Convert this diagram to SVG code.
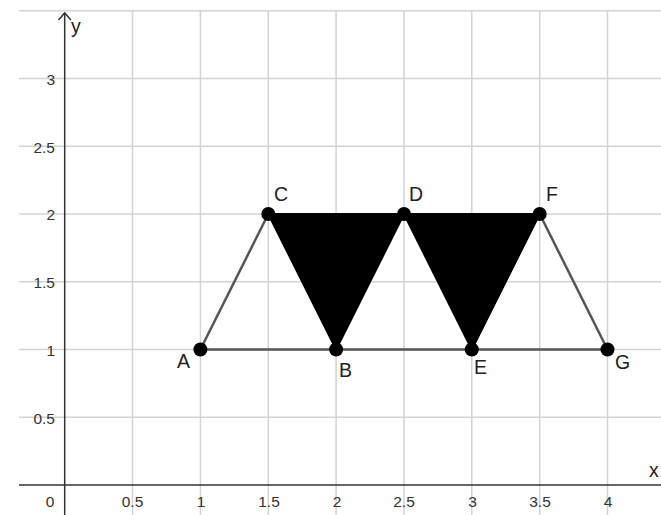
<svg xmlns="http://www.w3.org/2000/svg" width="661" height="515" viewBox="0 0 661 515">
<style>
.grid{stroke:#d3d3d3;stroke-width:1.5;fill:none}
.axis{stroke:#333;stroke-width:1.5;fill:none}
.tick{font-family:"Liberation Sans",Arial,sans-serif;font-size:15.5px;fill:#333}
.ty{text-anchor:end}
.tx{text-anchor:middle}
.seg{stroke:#555;stroke-width:2.5;fill:none;stroke-linecap:round}
.pt{fill:#000}
.lbl{font-family:"Liberation Sans",Arial,sans-serif;font-size:19.5px;fill:#222}
</style>
<rect width="661" height="515" fill="#fff"/>
<g id="grid">
<path class="grid" d="M19 10.75H661M19 78.5H661M19 146.25H661M19 214H661M19 281.75H661M19 349.5H661M19 417.25H661"/>
<path class="grid" d="M132.5 10.75V515M200.4 10.75V515M268.3 10.75V515M336.1 10.75V515M404 10.75V515M471.8 10.75V515M539.7 10.75V515M607.5 10.75V515"/>
</g>
<g id="axes">
<path class="axis" d="M19 485H661"/>
<path class="axis" d="M64.7 515V13"/>
<path class="axis" d="M58.5 20L64.7 13L70.9 20"/>
<text class="lbl" x="71" y="33">y</text>
<text class="lbl" x="649" y="477">x</text>
</g>
<g id="ticks">
<text class="tick tx" x="50" y="507">0</text>
<text class="tick tx" x="132.5" y="507">0.5</text>
<text class="tick tx" x="201" y="507">1</text>
<text class="tick tx" x="269" y="507">1.5</text>
<text class="tick tx" x="337" y="507">2</text>
<text class="tick tx" x="404" y="507">2.5</text>
<text class="tick tx" x="472.5" y="507">3</text>
<text class="tick tx" x="540" y="507">3.5</text>
<text class="tick tx" x="608" y="507">4</text>
<text class="tick ty" x="55" y="423.5">0.5</text>
<text class="tick ty" x="55" y="355.5">1</text>
<text class="tick ty" x="55" y="288">1.5</text>
<text class="tick ty" x="55" y="220">2</text>
<text class="tick ty" x="55" y="152.5">2.5</text>
<text class="tick ty" x="55" y="84.5">3</text>
</g>
<g id="connectors">
<polygon points="268.3,214 404,214 336.1,349.5" fill="#000" stroke="#000" stroke-width="2" stroke-linejoin="round"/>
<polygon points="404,214 539.7,214 471.8,349.5" fill="#000" stroke="#000" stroke-width="2" stroke-linejoin="round"/>
<path class="seg" d="M200.4 349.5L268.3 214M539.7 214L607.5 349.5M200.4 349.5H607.5"/>
</g>
<g id="A"><circle class="pt" cx="200.4" cy="349.5" r="7"/><text class="lbl" x="177" y="368">A</text></g>
<g id="B"><circle class="pt" cx="336.1" cy="349.5" r="7"/><text class="lbl" x="339" y="377">B</text></g>
<g id="C"><circle class="pt" cx="268.3" cy="214" r="7"/><text class="lbl" x="274" y="201">C</text></g>
<g id="D"><circle class="pt" cx="404" cy="214" r="7"/><text class="lbl" x="409" y="201">D</text></g>
<g id="E"><circle class="pt" cx="471.8" cy="349.5" r="7"/><text class="lbl" x="474" y="374">E</text></g>
<g id="F"><circle class="pt" cx="539.7" cy="214" r="7"/><text class="lbl" x="546" y="201">F</text></g>
<g id="G"><circle class="pt" cx="607.5" cy="349.5" r="7"/><text class="lbl" x="615" y="369">G</text></g>
</svg>
